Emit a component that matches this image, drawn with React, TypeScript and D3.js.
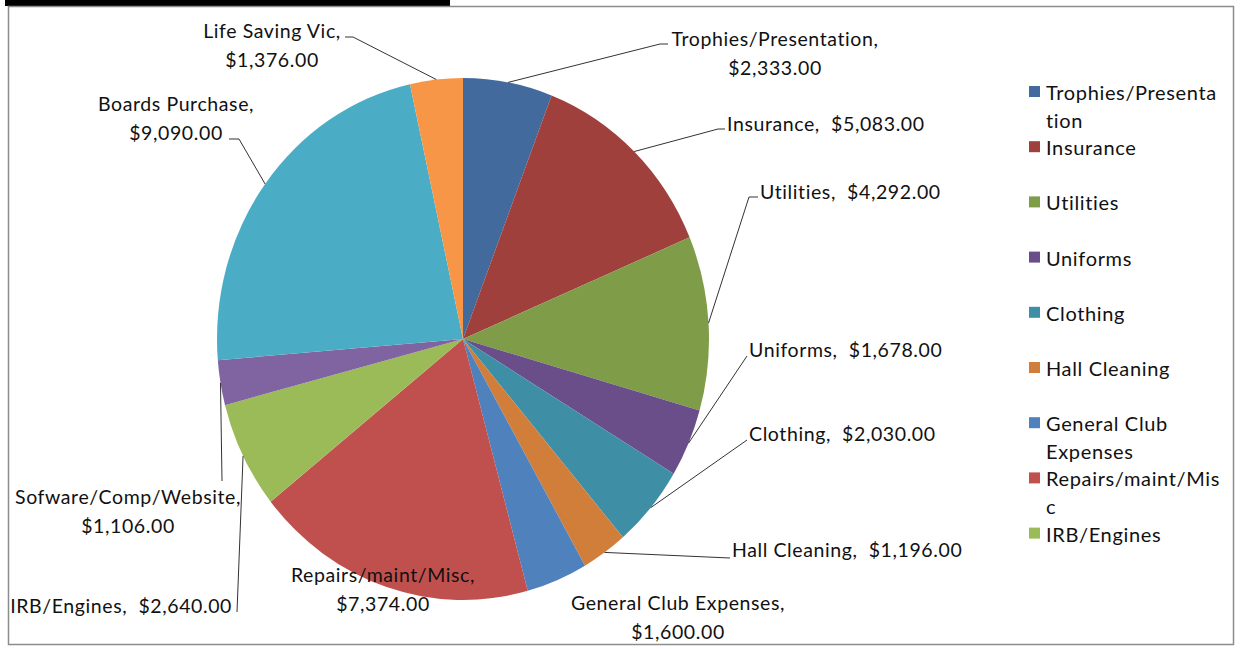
import React from 'react';
import * as d3 from 'd3';

// slice data, clockwise from 12 o'clock
const categories = [
  'Trophies/Presentation',
  'Insurance',
  'Utilities',
  'Uniforms',
  'Clothing',
  'Hall Cleaning',
  'General Club Expenses',
  'Repairs/maint/Misc',
  'IRB/Engines',
  'Sofware/Comp/Website',
  'Boards Purchase',
  'Life Saving Vic',
];
const amounts = [2333, 5083, 4292, 1678, 2030, 1196, 1600, 7374, 2640, 1106, 9090, 1376];
const colors = [
  '#426a9c', '#9f403d', '#7f9c48', '#6a4e8a', '#3e8ea6', '#d07e3a',
  '#4f81bd', '#c0504d', '#9bbb59', '#8064a2', '#4bacc6', '#f79646',
];
// legend only shows what fits (Excel clipped it)
const legendLines = [
  ['Trophies/Presenta', 'tion'],
  ['Insurance'],
  ['Utilities'],
  ['Uniforms'],
  ['Clothing'],
  ['Hall Cleaning'],
  ['General Club', 'Expenses'],
  ['Repairs/maint/Mis', 'c'],
  ['IRB/Engines'],
];

// label layout: x/y is the first baseline, two = label split over two lines
type LabelPos = { x: number; y: number; anchor: string; two: boolean; from?: [number, number]; elbow?: [number, number] };
const labelLayout: LabelPos[] = [
  { x: 775, y: 46, anchor: 'middle', two: true, from: [668, 44], elbow: [660, 44] },
  { x: 727, y: 131, anchor: 'start', two: false, from: [725, 129], elbow: [718, 129] },
  { x: 760, y: 199, anchor: 'start', two: false, from: [758, 197], elbow: [749, 197] },
  { x: 749, y: 357, anchor: 'start', two: false, from: [747, 356] },
  { x: 749, y: 441, anchor: 'start', two: false, from: [747, 440] },
  { x: 732, y: 557, anchor: 'start', two: false, from: [730, 558] },
  { x: 678, y: 610, anchor: 'middle', two: true },
  { x: 383, y: 582, anchor: 'middle', two: true },
  { x: 232, y: 613, anchor: 'end', two: false, from: [237, 612] },
  { x: 128, y: 504, anchor: 'middle', two: true, from: [222, 481] },
  { x: 176, y: 111, anchor: 'middle', two: true, from: [229, 139], elbow: [239, 139] },
  { x: 272, y: 38, anchor: 'middle', two: true, from: [345, 37], elbow: [353, 37] },
];

const W = 1241;
const H = 649;
const cx = 463;
const cy = 339;
const rx = 246;
const ry = 261;
const font = 'Lato, "Open Sans", sans-serif';

const money = (v: number) => '$' + d3.format(',.2f')(v);

export default function App() {
  const pie = d3.pie<number>().sort(null).value((d) => d);
  const arcs = pie(amounts);
  const arc = d3.arc<d3.PieArcDatum<number>>().innerRadius(0).outerRadius(ry);
  const sx = rx / ry;

  const edge = (a: d3.PieArcDatum<number>): [number, number] => {
    const m = (a.startAngle + a.endAngle) / 2;
    return [cx + rx * Math.sin(m), cy - ry * Math.cos(m)];
  };

  const legendY = d3.scaleLinear().domain([0, 1]).range([100, 155.2]);

  return (
    <div style={{ position: 'absolute', left: 0, top: 0 }}>
      <svg width={W} height={H} style={{ display: 'block', background: '#fff' }}>
        <rect x={5} y={0} width={445} height={6} fill="#000" />
        <rect x={8.5} y={6.5} width={1225} height={638} fill="#fff" stroke="#8c8c8c" strokeWidth={1.5} />

        <g transform={`translate(${cx},${cy}) scale(${sx},1)`}>
          {arcs.map((a, i) => (
            <path key={i} d={arc(a) || ''} fill={colors[i]} />
          ))}
        </g>

        {arcs.map((a, i) => {
          const p = labelLayout[i];
          if (!p.from) return null;
          const pts: [number, number][] = [p.from];
          if (p.elbow) pts.push(p.elbow);
          pts.push(edge(a));
          return (
            <path key={'l' + i} d={d3.line()(pts) || ''} fill="none" stroke="#333" strokeWidth={1} />
          );
        })}

        {arcs.map((a, i) => {
          const p = labelLayout[i];
          const name = categories[i] + ',';
          const val = money(amounts[i]);
          return (
            <text
              key={'t' + i}
              x={p.x}
              y={p.y}
              textAnchor={p.anchor}
              fontFamily={font}
              fontSize={19.5}
              letterSpacing={0.6}
              fill="#111"
              style={{ whiteSpace: 'pre' }}
            >
              {p.two ? (
                <>
                  <tspan x={p.x}>{name}</tspan>
                  <tspan x={p.x} dy={28.5}>{val}</tspan>
                </>
              ) : (
                name + '  ' + val
              )}
            </text>
          );
        })}

        {legendLines.map((lines, i) => {
          const y = legendY(i);
          return (
            <g key={'lg' + i}>
              <rect x={1029} y={y - 14} width={11} height={11} fill={colors[i]} />
              <text x={1046} y={y} fontFamily={font} fontSize={20} letterSpacing={0.65} fill="#111">
                {lines.map((t, j) => (
                  <tspan key={j} x={1046} dy={j === 0 ? 0 : 28}>{t}</tspan>
                ))}
              </text>
            </g>
          );
        })}
      </svg>
    </div>
  );
}
